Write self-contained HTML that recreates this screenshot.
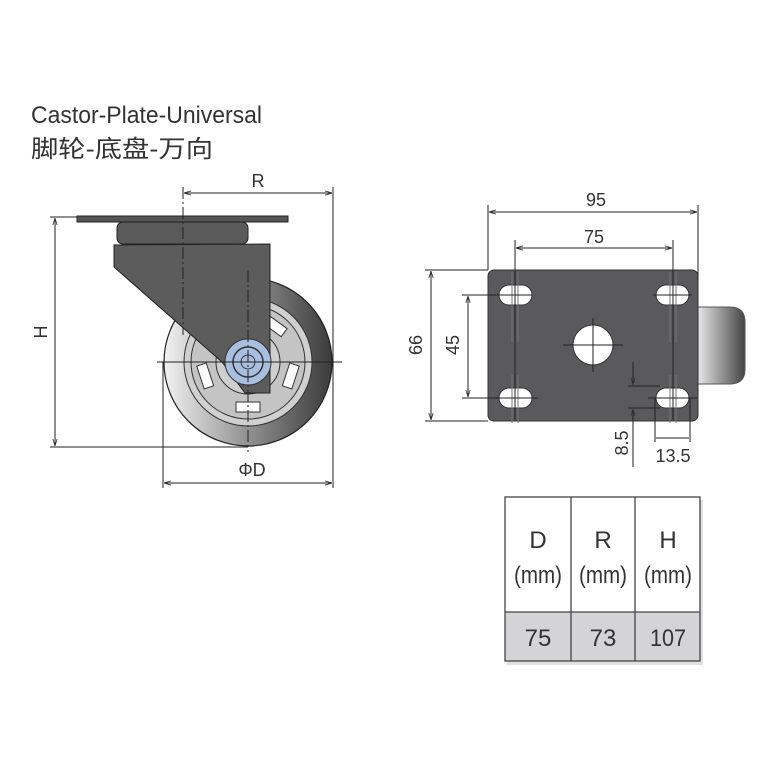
<!DOCTYPE html>
<html><head><meta charset="utf-8"><style>body{margin:0;background:#fff}svg{display:block}</style></head>
<body>
<svg width="768" height="768" viewBox="0 0 768 768" xmlns="http://www.w3.org/2000/svg" font-family="Liberation Sans, sans-serif">
<defs>
<linearGradient id="tire" x1="0" x2="1" y1="0" y2="0">
<stop offset="0" stop-color="#f2f2f2"/><stop offset="0.45" stop-color="#9a9a9a"/><stop offset="1" stop-color="#3a3a3a"/></linearGradient>
<linearGradient id="side" x1="0" x2="1"><stop offset="0" stop-color="#e6e6e6"/><stop offset="1" stop-color="#444"/></linearGradient>
<marker id="a" viewBox="0 0 10 10" refX="10" refY="5" markerWidth="7" markerHeight="7" orient="auto-start-reverse"><path d="M0,2 L10,5 L0,8" fill="none" stroke="#333" stroke-width="1.2"/></marker>
</defs>
<text x="31" y="123" font-size="24" fill="#333" textLength="231" lengthAdjust="spacingAndGlyphs">Castor-Plate-Universal</text>
<text x="31" y="157" font-size="24" fill="#333" font-family="Liberation Sans, Noto Sans CJK SC, sans-serif" textLength="182" lengthAdjust="spacingAndGlyphs">脚轮-底盘-万向</text>

<!-- left caster -->
<circle cx="248" cy="362" r="84" fill="url(#tire)" stroke="#222" stroke-width="1.2"/>
<circle cx="248" cy="362" r="64" fill="#d0d0d0" stroke="#333"/>
<circle cx="248" cy="362" r="57" fill="#c4c4c4" stroke="#333"/>
<g fill="#fff" stroke="#333">
<rect x="236" y="402" width="24" height="10" transform="rotate(0 248 362)"/>
<rect x="236" y="402" width="24" height="10" transform="rotate(72 248 362)"/>
<rect x="236" y="402" width="24" height="10" transform="rotate(144 248 362)"/>
<rect x="236" y="402" width="24" height="10" transform="rotate(216 248 362)"/>
<rect x="236" y="402" width="24" height="10" transform="rotate(288 248 362)"/>
</g>
<circle cx="248" cy="362" r="32" fill="#cfcfcf" stroke="#333"/>
<rect x="77" y="216" width="211" height="6" fill="#555" stroke="#222"/>
<rect x="117" y="222" width="131" height="22" rx="6" fill="#5a5a5a" stroke="#222"/>
<path d="M114,245 L270,244 L270,393 L245,393 L222,362 L114,267 Z" fill="#5c5c5c" stroke="#222"/>
<circle cx="248" cy="362" r="23" fill="#a9bfe0" stroke="#333"/>
<circle cx="248" cy="362" r="15" fill="#a9bfe0" stroke="#333" stroke-width="1.5"/>
<circle cx="248" cy="362" r="7" fill="#a9bfe0" stroke="#333"/>
<g stroke="#222" stroke-width="1" fill="none">
<line x1="157" y1="362" x2="342" y2="362"/>
<line x1="248" y1="270" x2="248" y2="452" stroke-dasharray="12,3,2,3"/>
<line x1="183" y1="187" x2="183" y2="335" stroke-dasharray="12,3,2,3"/>
<line x1="333" y1="187" x2="333" y2="488"/>
<line x1="163" y1="362" x2="163" y2="488"/>
<line x1="50" y1="217" x2="77" y2="217"/>
<line x1="50" y1="447" x2="248" y2="447"/>
<line x1="55" y1="218" x2="55" y2="446" marker-start="url(#a)" marker-end="url(#a)"/>
<line x1="184" y1="193" x2="332" y2="193" marker-start="url(#a)" marker-end="url(#a)"/>
<line x1="164" y1="483" x2="332" y2="483" marker-start="url(#a)" marker-end="url(#a)"/>
</g>
<text x="258" y="187" font-size="18" fill="#333" text-anchor="middle">R</text>
<text x="252" y="476" font-size="18" fill="#333" text-anchor="middle">ΦD</text>
<text x="0" y="0" font-size="18" fill="#333" text-anchor="middle" transform="translate(47,332) rotate(-90)">H</text>

<!-- right plate -->
<path d="M698,307 L730,307 Q745,307 745,322 L745,369 Q745,384 730,384 L698,384 Z" fill="url(#side)" stroke="#555"/>
<rect x="488" y="270" width="210" height="151" rx="6" fill="#5a5a5c" stroke="#333"/>
<circle cx="593" cy="345" r="20" fill="#fff" stroke="#333"/>
<g fill="#fff" stroke="#333">
<rect x="499" y="285" width="33" height="20" rx="10"/>
<rect x="656" y="285" width="33" height="20" rx="10"/>
<rect x="499" y="388" width="33" height="20" rx="10"/>
<rect x="656" y="388" width="33" height="20" rx="10"/>
</g>
<g stroke="#222" stroke-width="1" fill="none">
<path d="M512,272v70M518,272v70M670,272v70M676,272v70M512,375v48M518,375v48M670,375v48M676,375v48" stroke="#777"/>
<line x1="515" y1="240" x2="515" y2="420"/>
<line x1="673" y1="240" x2="673" y2="420"/>
<line x1="488" y1="205" x2="488" y2="270"/>
<line x1="698" y1="205" x2="698" y2="280"/>
<line x1="489" y1="212" x2="697" y2="212" marker-start="url(#a)" marker-end="url(#a)"/>
<line x1="516" y1="248" x2="672" y2="248" marker-start="url(#a)" marker-end="url(#a)"/>
<line x1="425" y1="270" x2="488" y2="270"/>
<line x1="425" y1="421" x2="488" y2="421"/>
<line x1="431" y1="271" x2="431" y2="420" marker-start="url(#a)" marker-end="url(#a)"/>
<line x1="462" y1="295" x2="532" y2="295"/>
<line x1="462" y1="398" x2="538" y2="398"/>
<line x1="468" y1="296" x2="468" y2="397" marker-start="url(#a)" marker-end="url(#a)"/>
<line x1="563" y1="345" x2="623" y2="345"/>
<line x1="593" y1="318" x2="593" y2="372"/>
<line x1="653" y1="295" x2="692" y2="295"/>
<line x1="648" y1="398" x2="697" y2="398"/>
<line x1="628" y1="386" x2="660" y2="386"/>
<line x1="628" y1="408" x2="660" y2="408"/>
<line x1="633" y1="362" x2="633" y2="385" marker-end="url(#a)"/>
<line x1="633" y1="409" x2="633" y2="467" marker-start="url(#a)"/>
<line x1="655" y1="398" x2="655" y2="442"/>
<line x1="690" y1="398" x2="690" y2="442"/>
<line x1="656" y1="438" x2="689" y2="438"/>
</g>
<text x="596" y="206" font-size="18" fill="#333" text-anchor="middle">95</text>
<text x="594" y="243" font-size="18" fill="#333" text-anchor="middle">75</text>
<text x="0" y="0" font-size="18" fill="#333" text-anchor="middle" transform="translate(422,345) rotate(-90)">66</text>
<text x="0" y="0" font-size="18" fill="#333" text-anchor="middle" transform="translate(459,345) rotate(-90)">45</text>
<text x="0" y="0" font-size="18" fill="#333" text-anchor="middle" transform="translate(628,443) rotate(-90)">8.5</text>
<text x="673" y="462" font-size="18" fill="#333" text-anchor="middle">13.5</text>

<!-- table -->
<rect x="507" y="500" width="196" height="165" fill="#aaa" opacity="0.35"/>
<rect x="505" y="497" width="195" height="115" fill="#fff"/>
<rect x="505" y="612" width="195" height="49" fill="#d4d4d6"/>
<g stroke="#444" stroke-width="1.3" fill="none">
<rect x="505" y="497" width="195" height="164"/>
<line x1="505" y1="612" x2="700" y2="612"/>
<line x1="571" y1="497" x2="571" y2="661"/>
<line x1="635" y1="497" x2="635" y2="661"/>
</g>
<g font-size="24" fill="#333" text-anchor="middle">
<text x="538" y="548">D</text><text x="603" y="548">R</text><text x="668" y="548">H</text>
<text x="538" y="583" textLength="48" lengthAdjust="spacingAndGlyphs">(mm)</text><text x="603" y="583" textLength="48" lengthAdjust="spacingAndGlyphs">(mm)</text><text x="668" y="583" textLength="48" lengthAdjust="spacingAndGlyphs">(mm)</text>
<text x="538" y="646">75</text><text x="603" y="646">73</text><text x="668" y="646" textLength="36" lengthAdjust="spacingAndGlyphs">107</text>
</g>
</svg>
</body></html>
